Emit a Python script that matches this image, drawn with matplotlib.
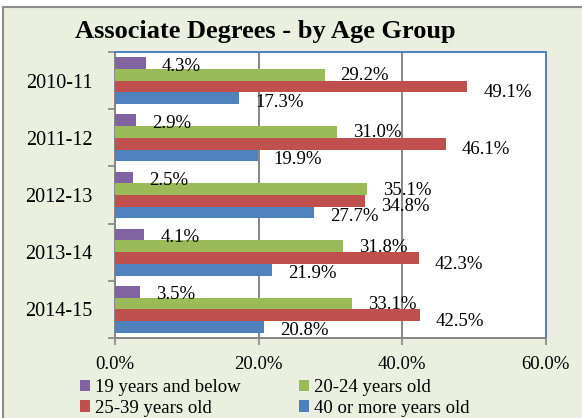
import matplotlib
matplotlib.use("Agg")
import matplotlib.pyplot as plt
import numpy as np
from matplotlib.patches import Rectangle

years = ["2010-11", "2011-12", "2012-13", "2013-14", "2014-15"]
series_names = ["19 years and below", "20-24 years old", "25-39 years old", "40 or more years old"]
age_19_below = [4.3, 2.9, 2.5, 4.1, 3.5]
age_20_24 = [29.2, 31.0, 35.1, 31.8, 33.1]
age_25_39 = [49.1, 46.1, 34.8, 42.3, 42.5]
age_40_plus = [17.3, 19.9, 27.7, 21.9, 20.8]
x_ticks = [0, 20, 40, 60]

colors = ["#8064A2", "#9BBB59", "#C0504D", "#4F81BD"]
bg = "#EBEFDF"
FONT = "Liberation Serif"
plt.rcParams["font.family"] = [FONT, "DejaVu Serif"]

W, H = 582, 418
fig = plt.figure(figsize=(W / 100, H / 100), dpi=100)
fig.patch.set_facecolor("white")
fig.patches.append(Rectangle((3 / W, -0.1), 1.2, 1.1 - 7 / H, transform=fig.transFigure,
                             facecolor=bg, edgecolor="#8C8C8C", linewidth=1.5, zorder=-10))

ax = fig.add_axes([115 / W, 1 - 338 / H, (545.5 - 115) / W, (338 - 52) / H])
ax.set_facecolor("white")

data = [age_19_below, age_20_24, age_25_39, age_40_plus]
y = np.arange(len(years))
h = 0.205
offsets = [-1.5 * h, -0.5 * h, 0.5 * h, 1.5 * h]
label_dy = [-3, -1, -6, -4]
for vals, off, col, name, dy in zip(data, offsets, colors, series_names, label_dy):
    ax.barh(y + off, vals, height=h, color=col, label=name, zorder=3)
    for v, yy in zip(vals, y + off):
        ax.annotate(f"{v:.1f}%", xy=(v, yy), xytext=(16, dy), textcoords="offset pixels",
                    ha="left", va="center", fontsize=13.5, color="black", zorder=5)

ax.set_xlim(0, 60)
ax.set_ylim(len(years) - 0.5, -0.5)
ax.set_xticks(x_ticks)
ax.set_xticklabels([f"{t:.1f}%" for t in x_ticks], fontsize=13.5)
ax.set_yticks(y)
ax.set_yticklabels(years, fontsize=14.5)
ax.set_yticks(np.arange(len(years) + 1) - 0.5, minor=True)
ax.tick_params(axis="y", which="major", length=0, pad=16)
ax.tick_params(axis="y", which="minor", length=5, width=1.2, color="#868686", direction="out")
ax.tick_params(axis="x", which="major", length=5, width=1.2, color="#868686", direction="out", pad=8)

ax.xaxis.grid(True, color="#868686", linewidth=1.4, zorder=1)
ax.set_axisbelow(True)
for side in ["left", "bottom"]:
    ax.spines[side].set_color("#868686")
    ax.spines[side].set_linewidth(1.4)
for side in ["top", "right"]:
    ax.spines[side].set_color("#4F81BD")
    ax.spines[side].set_linewidth(1.4)

fig.text(265.5 / W, 1 - 38 / H, "Associate Degrees - by Age Group", ha="center", va="baseline",
         fontsize=19, fontweight="bold")

handles, labels = ax.get_legend_handles_labels()
order = [0, 2, 1, 3]
fig.legend([handles[i] for i in order], [labels[i] for i in order], ncol=2,
           loc="upper left", bbox_to_anchor=(80 / W, 1 - 379 / H), frameon=False,
           fontsize=13.5, handlelength=0.55, handleheight=0.55, handletextpad=0.25,
           columnspacing=3.1, labelspacing=0.2, borderpad=0, borderaxespad=0)

fig.savefig("out.png", dpi=100, facecolor=fig.get_facecolor())
